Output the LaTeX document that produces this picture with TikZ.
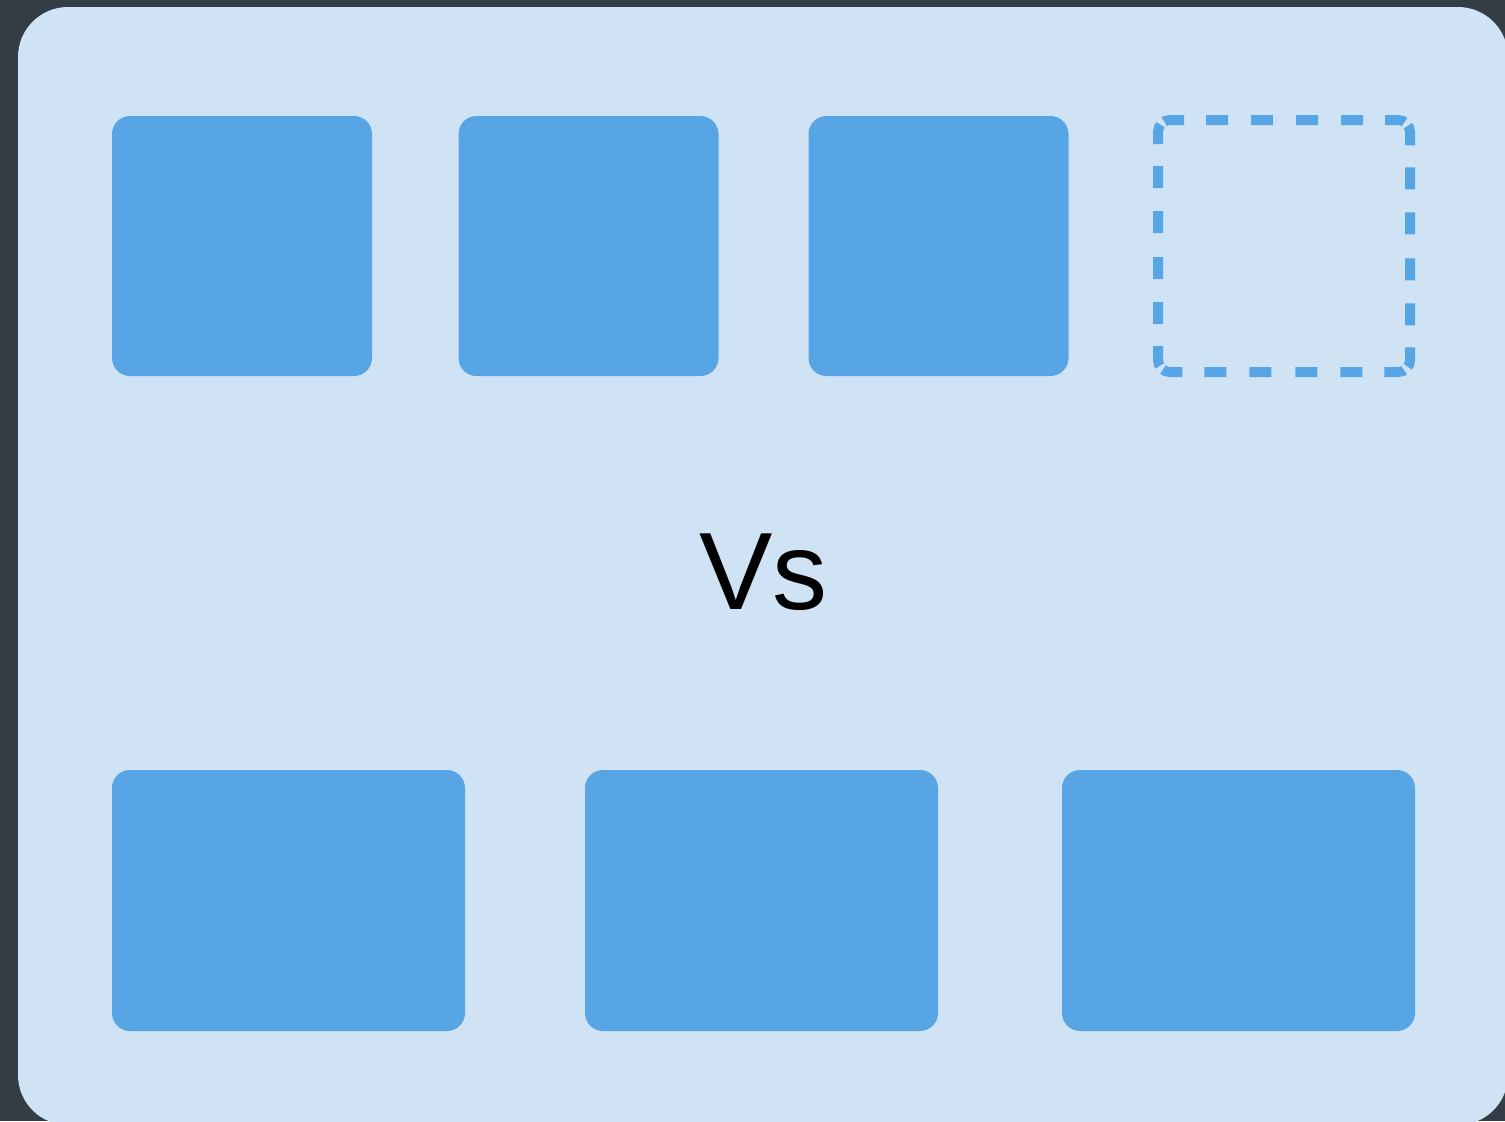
\documentclass[tikz,border=0pt]{standalone}
\usepackage{fontspec}
\setmainfont{Liberation Sans}
\definecolor{frameback}{HTML}{333D45}
\definecolor{panelblue}{HTML}{CFE3F5}
\definecolor{boxblue}{HTML}{57A5E5}
\tikzset{
  tile/.style={fill=boxblue, rounded corners=9pt, inner sep=0pt, outer sep=0pt},
  emptytile/.style={inner sep=0pt, outer sep=0pt,
    minimum width=126pt, minimum height=126pt},
  dashedge/.style={draw=boxblue, line width=5pt, rounded corners=6pt,
    dash pattern=on 11pt off 11.5pt on 11pt off 11pt on 10pt off 2.5pt
      on 10pt off 11pt on 11pt off 11.5pt on 11pt off 12pt,
    dash phase=117.5pt}
}
\begin{document}
\begin{tikzpicture}
    \begin{scope}[x=0.5pt,y=-0.5pt]
      \useasboundingbox (0,0) rectangle (1505,1121);
      \fill [frameback] (0,0) rectangle (1505,1121);
      \fill [panelblue, rounded corners=25pt] (18,7) rectangle (1508,1125);
      \node [tile, minimum width=130pt, minimum height=130pt] (top1) at (242,246) {};
      \node [tile, minimum width=130pt, minimum height=130pt] (top2) at (588.5,246) {};
      \node [tile, minimum width=130pt, minimum height=130pt] (top3) at (938.5,246) {};
      \node [emptytile] (top4) at (1284,246) {};
      \draw [dashedge] (top4.north) -| (top4.east) |- (top4.south)
      -| (top4.west) |- (top4.north);
      \node (vs) at (763.5,572) {\fontsize{55}{60}\selectfont Vs};
      \node [tile, minimum width=176.5pt, minimum height=130.5pt] (bot1) at (288.5,900.5) {};
      \node [tile, minimum width=176.5pt, minimum height=130.5pt] (bot2) at (761.5,900.5) {};
      \node [tile, minimum width=176.5pt, minimum height=130.5pt] (bot3) at (1238.5,900.5) {};
    \end{scope}
\end{tikzpicture}
\end{document}
